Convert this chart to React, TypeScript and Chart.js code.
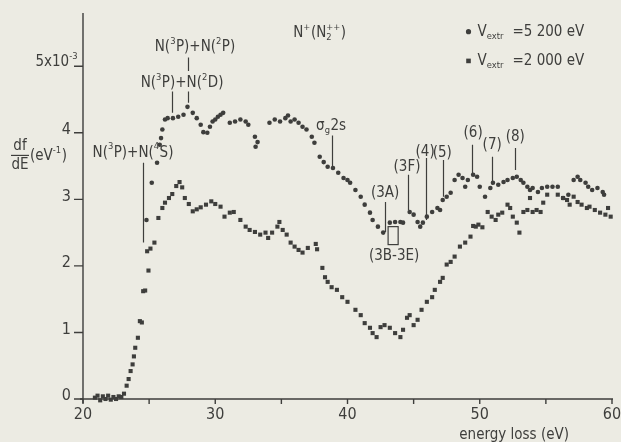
import React, { useEffect, useRef } from "react";
import { Chart, registerables } from "chart.js";

Chart.register(...registerables);

// ---- data: V_extr = 5200 eV (circles) ----
const highE = [24.8, 25.2, 25.6, 25.8, 25.9, 26.0, 26.2, 26.4, 26.8, 27.2, 27.6, 27.9, 28.3, 28.6, 28.9, 29.1, 29.4, 29.6, 29.8, 30.0, 30.2, 30.4, 30.6, 31.1, 31.5, 31.9, 32.3, 32.5, 33.0, 33.2, 33.05, 34.1, 34.5, 34.9, 35.3, 35.5, 35.7, 36.0, 36.3, 36.6, 36.9, 37.3, 37.5, 37.9, 38.2, 38.5, 38.9, 39.3, 39.7, 40.0, 40.2, 40.6, 41.0, 41.3, 41.7, 41.9, 42.3, 42.7, 43.2, 43.6, 44.0, 44.2, 44.7, 45.0, 45.3, 45.5, 45.7, 46.0, 46.4, 46.8, 47.0, 47.2, 47.5, 47.8, 48.1, 48.4, 48.7, 48.9, 49.1, 49.5, 49.8, 50.0, 50.4, 50.8, 51.0, 51.4, 51.8, 52.1, 52.5, 52.8, 53.1, 53.3, 53.6, 53.8, 54.0, 54.4, 54.7, 55.1, 55.5, 55.9, 56.3, 56.7, 57.1, 57.4, 57.6, 58.0, 58.2, 58.5, 58.9, 59.3, 59.4];
const highDf = [2.69, 3.25, 3.55, 3.82, 3.92, 4.05, 4.20, 4.22, 4.22, 4.24, 4.27, 4.39, 4.30, 4.22, 4.12, 4.01, 4.00, 4.09, 4.17, 4.20, 4.24, 4.27, 4.30, 4.15, 4.17, 4.20, 4.17, 4.12, 3.94, 3.86, 3.79, 4.15, 4.20, 4.17, 4.22, 4.26, 4.17, 4.20, 4.15, 4.09, 4.05, 3.94, 3.85, 3.64, 3.56, 3.49, 3.47, 3.40, 3.32, 3.29, 3.25, 3.14, 3.04, 2.92, 2.80, 2.69, 2.59, 2.50, 2.65, 2.66, 2.66, 2.65, 2.81, 2.77, 2.66, 2.59, 2.65, 2.74, 2.81, 2.87, 2.84, 2.99, 3.04, 3.10, 3.29, 3.37, 3.32, 3.19, 3.29, 3.37, 3.34, 3.19, 3.04, 3.17, 3.25, 3.22, 3.26, 3.29, 3.32, 3.34, 3.29, 3.25, 3.19, 3.14, 3.17, 3.11, 3.17, 3.19, 3.19, 3.19, 3.02, 3.07, 3.29, 3.34, 3.29, 3.25, 3.19, 3.14, 3.17, 3.11, 3.07];

// ---- data: V_extr = 2000 eV (squares) ----
const lowE = [20.9, 21.1, 21.3, 21.5, 21.7, 21.9, 22.1, 22.3, 22.5, 22.7, 22.9, 23.1, 23.3, 23.45, 23.6, 23.75, 23.85, 23.95, 24.15, 24.3, 24.45, 24.55, 24.7, 24.85, 24.95, 25.1, 25.4, 25.7, 26.0, 26.2, 26.5, 26.75, 27.05, 27.3, 27.5, 27.7, 28.0, 28.3, 28.6, 28.9, 29.3, 29.7, 30.0, 30.4, 30.7, 31.1, 31.4, 31.9, 32.3, 32.6, 33.0, 33.4, 33.8, 34.0, 34.3, 34.7, 34.85, 35.1, 35.4, 35.7, 36.0, 36.3, 36.6, 37.0, 37.6, 37.7, 38.1, 38.3, 38.5, 38.8, 39.2, 39.6, 40.0, 40.6, 41.0, 41.3, 41.7, 41.9, 42.2, 42.5, 42.8, 43.2, 43.6, 44.0, 44.2, 44.5, 44.7, 45.0, 45.3, 45.6, 46.0, 46.4, 46.6, 47.0, 47.2, 47.5, 47.8, 48.1, 48.5, 48.9, 49.3, 49.5, 49.7, 49.9, 50.2, 50.6, 50.9, 51.2, 51.4, 51.7, 52.1, 52.3, 52.5, 52.8, 53.0, 53.3, 53.6, 53.8, 54.0, 54.3, 54.6, 54.8, 55.1, 55.9, 56.3, 56.6, 56.8, 57.1, 57.4, 57.7, 58.1, 58.3, 58.7, 59.1, 59.5, 59.7, 59.9];
const lowDf = [0.02, 0.05, -0.02, 0.04, 0.00, 0.05, -0.01, 0.03, 0.00, 0.04, 0.03, 0.08, 0.20, 0.30, 0.42, 0.52, 0.64, 0.77, 0.92, 1.17, 1.15, 1.62, 1.63, 2.22, 1.93, 2.26, 2.35, 2.72, 2.87, 2.95, 3.02, 3.08, 3.20, 3.26, 3.18, 3.02, 2.93, 2.82, 2.85, 2.88, 2.92, 2.97, 2.93, 2.89, 2.74, 2.80, 2.81, 2.69, 2.59, 2.54, 2.51, 2.47, 2.50, 2.42, 2.50, 2.59, 2.66, 2.54, 2.47, 2.35, 2.29, 2.24, 2.20, 2.27, 2.33, 2.25, 1.97, 1.83, 1.76, 1.68, 1.64, 1.53, 1.46, 1.34, 1.26, 1.14, 1.07, 0.99, 0.93, 1.08, 1.11, 1.07, 0.99, 0.93, 1.04, 1.22, 1.26, 1.11, 1.19, 1.34, 1.46, 1.53, 1.64, 1.76, 1.82, 2.02, 2.06, 2.14, 2.29, 2.35, 2.44, 2.60, 2.59, 2.62, 2.58, 2.81, 2.74, 2.69, 2.77, 2.80, 2.92, 2.87, 2.74, 2.65, 2.50, 2.81, 2.84, 3.02, 2.81, 2.84, 2.81, 2.95, 3.07, 3.07, 3.02, 2.99, 2.92, 3.04, 2.96, 2.92, 2.87, 2.89, 2.84, 2.80, 2.77, 2.87, 2.74];

// ---- axes ----
const xMajorTicks = [20, 30, 40, 50, 60];
const xMinorTicks = [25, 35, 45, 55];
const yTicks = [0, 1, 2, 3, 4, 5];
const yTickLabels = ["0", "1", "2", "3", "4", "5x10"];
const xTitle = "energy loss (eV)";
const seriesNames = ["5 200 eV", "2 000 eV"];

const X_MIN = 20, X_MAX = 60, Y_MIN = 0, Y_MAX = 5.8;

const BG = "#ecebe3";
const INK = "#3e3e3c";
const FONT = "'DejaVu Sans Condensed', 'Liberation Sans Narrow', 'DejaVu Sans', sans-serif";

type Seg = { t: string; s?: "sup" | "sub"; sub?: string };

function segFont(size: number) {
  return `${size}px ${FONT}`;
}

function richWidth(ctx: CanvasRenderingContext2D, segs: Seg[], size: number) {
  let w = 0;
  for (const g of segs) {
    if (g.s || g.sub) {
      ctx.font = segFont(size * 0.62);
      const a = ctx.measureText(g.t).width;
      const b = g.sub ? ctx.measureText(g.sub).width : 0;
      w += Math.max(a, b) + 0.5;
    } else {
      ctx.font = segFont(size);
      w += ctx.measureText(g.t).width;
    }
  }
  return w;
}

function drawRich(ctx: CanvasRenderingContext2D, segs: Seg[], x: number, y: number, size: number, align: "left" | "center" | "right") {
  const w = richWidth(ctx, segs, size);
  let cx = align === "left" ? x : align === "center" ? x - w / 2 : x - w;
  ctx.textAlign = "left";
  ctx.textBaseline = "middle";
  for (const g of segs) {
    if (g.s || g.sub) {
      ctx.font = segFont(size * 0.62);
      let a = 0, b = 0;
      if (g.t) {
        const dy = g.s === "sub" ? size * 0.3 : -size * 0.38;
        ctx.fillText(g.t, cx, y + dy);
        a = ctx.measureText(g.t).width;
      }
      if (g.sub) {
        ctx.fillText(g.sub, cx, y + size * 0.3);
        b = ctx.measureText(g.sub).width;
      }
      cx += Math.max(a, b) + 0.5;
    } else {
      ctx.font = segFont(size);
      ctx.fillText(g.t, cx, y);
      cx += ctx.measureText(g.t).width;
    }
  }
}

// annotation marks in data coordinates
const markLines = [
  { x: 24.5, y1: 3.55, y2: 2.35 },
  { x: 26.7, y1: 4.62, y2: 4.3 },
  { x: 27.95, y1: 5.13, y2: 4.93 },
  { x: 27.95, y1: 4.62, y2: 4.45 },
  { x: 38.8, y1: 3.96, y2: 3.48 },
  { x: 42.8, y1: 2.96, y2: 2.51 },
  { x: 44.6, y1: 3.37, y2: 2.84 },
  { x: 45.9, y1: 3.62, y2: 2.69 },
  { x: 47.2, y1: 3.59, y2: 3.04 },
  { x: 49.4, y1: 3.82, y2: 3.37 },
  { x: 50.9, y1: 3.64, y2: 3.22 },
  { x: 52.7, y1: 3.77, y2: 3.44 },
];

const markLabels: { x: number; y: number; segs: Seg[] }[] = [
  { x: 23.78, y: 3.7, segs: [{ t: "N(" }, { t: "3", s: "sup" }, { t: "P)+N(" }, { t: "4", s: "sup" }, { t: "S)" }] },
  { x: 27.49, y: 4.75, segs: [{ t: "N(" }, { t: "3", s: "sup" }, { t: "P)+N(" }, { t: "2", s: "sup" }, { t: "D)" }] },
  { x: 28.47, y: 5.28, segs: [{ t: "N(" }, { t: "3", s: "sup" }, { t: "P)+N(" }, { t: "2", s: "sup" }, { t: "P)" }] },
  { x: 38.76, y: 4.1, segs: [{ t: "σ" }, { t: "g", s: "sub" }, { t: "2s" }] },
  { x: 42.84, y: 3.1, segs: [{ t: "(3A)" }] },
  { x: 44.5, y: 3.49, segs: [{ t: "(3F)" }] },
  { x: 45.87, y: 3.71, segs: [{ t: "(4)" }] },
  { x: 47.16, y: 3.7, segs: [{ t: "(5)" }] },
  { x: 49.5, y: 4.0, segs: [{ t: "(6)" }] },
  { x: 50.94, y: 3.82, segs: [{ t: "(7)" }] },
  { x: 52.68, y: 3.94, segs: [{ t: "(8)" }] },
  { x: 43.53, y: 2.14, segs: [{ t: "(3B-3E)" }] },
];

const paperPlugin = {
  id: "paper",
  beforeDraw(chart: any) {
    const { ctx, width, height } = chart;
    ctx.save();
    ctx.fillStyle = BG;
    ctx.fillRect(0, 0, width, height);
    ctx.restore();
  },
  beforeDatasetsDraw(chart: any) {
    const { ctx } = chart;
    const xs = chart.scales.x;
    const ys = chart.scales.y;
    const x0 = xs.getPixelForValue(X_MIN);
    const x1 = xs.getPixelForValue(X_MAX);
    const y0 = ys.getPixelForValue(0);
    const yTop = ys.getPixelForValue(Y_MAX);
    ctx.save();
    ctx.strokeStyle = INK;
    ctx.fillStyle = INK;
    ctx.lineWidth = 1.4;
    // axes
    ctx.beginPath();
    ctx.moveTo(x0, yTop);
    ctx.lineTo(x0, y0 + 4);
    ctx.moveTo(x0 - 3, y0);
    ctx.lineTo(x1 + 1, y0);
    ctx.stroke();
    // x ticks
    ctx.beginPath();
    for (const v of [...xMajorTicks, ...xMinorTicks]) {
      const px = xs.getPixelForValue(v);
      ctx.moveTo(px, y0);
      ctx.lineTo(px, y0 + 5);
    }
    // y ticks
    for (const v of yTicks) {
      const py = ys.getPixelForValue(v);
      ctx.moveTo(x0 - 9, py);
      ctx.lineTo(x0, py);
    }
    ctx.stroke();
    // x tick labels
    for (const v of xMajorTicks) {
      drawRich(ctx, [{ t: String(v) }], xs.getPixelForValue(v), y0 + 16, 16, "center");
    }
    // y tick labels
    yTicks.forEach((v, i) => {
      const py = ys.getPixelForValue(v) - 3;
      if (i === yTicks.length - 1) {
        drawRich(ctx, [{ t: yTickLabels[i] }, { t: "-3", s: "sup" }], x0 - 5, py - 1, 15, "right");
      } else {
        drawRich(ctx, [{ t: yTickLabels[i] }], x0 - 12, py, 16, "right");
      }
    });
    // x title
    drawRich(ctx, [{ t: xTitle }], xs.getPixelForValue(52.6), y0 + 36, 15, "center");
    // y title: df/dE (eV^-1)
    const ly = ys.getPixelForValue(3.66);
    drawRich(ctx, [{ t: "df" }], 20, ly - 9, 15, "center");
    ctx.beginPath();
    ctx.lineWidth = 1.2;
    ctx.moveTo(11, ly);
    ctx.lineTo(29, ly);
    ctx.stroke();
    drawRich(ctx, [{ t: "dE" }], 20, ly + 10, 15, "center");
    drawRich(ctx, [{ t: "(eV" }, { t: "-1", s: "sup" }, { t: ")" }], 30, ly + 1, 15, "left");
    ctx.restore();
  },
  afterDatasetsDraw(chart: any) {
    const { ctx } = chart;
    const xs = chart.scales.x;
    const ys = chart.scales.y;
    ctx.save();
    ctx.strokeStyle = INK;
    ctx.fillStyle = INK;
    ctx.lineWidth = 1.2;
    ctx.beginPath();
    for (const m of markLines) {
      const px = Math.round(xs.getPixelForValue(m.x)) + 0.5;
      ctx.moveTo(px, ys.getPixelForValue(m.y1));
      ctx.lineTo(px, ys.getPixelForValue(m.y2));
    }
    ctx.stroke();
    // (3B-3E) box
    const bx0 = xs.getPixelForValue(43.07), bx1 = xs.getPixelForValue(43.83);
    const by0 = ys.getPixelForValue(2.59), by1 = ys.getPixelForValue(2.32);
    ctx.strokeRect(bx0, by0, bx1 - bx0, by1 - by0);
    for (const l of markLabels) {
      drawRich(ctx, l.segs, xs.getPixelForValue(l.x), ys.getPixelForValue(l.y), 15, "center");
    }
    // molecule label
    drawRich(
      ctx,
      [{ t: "N" }, { t: "+", s: "sup" }, { t: "(N" }, { t: "++", sub: "2" }, { t: ")" }],
      xs.getPixelForValue(35.9),
      ys.getPixelForValue(5.5),
      15,
      "left"
    );
    // legend
    const lx = xs.getPixelForValue(49.15);
    const r1 = ys.getPixelForValue(5.52);
    const r2 = ys.getPixelForValue(5.08);
    ctx.beginPath();
    ctx.arc(lx, r1, 2.6, 0, Math.PI * 2);
    ctx.fill();
    ctx.fillRect(lx - 2.3, r2 - 2.3, 4.6, 4.6);
    drawRich(ctx, [{ t: "V" }, { t: "extr", s: "sub" }, { t: "  =" + seriesNames[0] }], lx + 9, r1, 15, "left");
    drawRich(ctx, [{ t: "V" }, { t: "extr", s: "sub" }, { t: "  =" + seriesNames[1] }], lx + 9, r2, 15, "left");
    ctx.restore();
  },
};

export default function App() {
  const ref = useRef<HTMLCanvasElement | null>(null);
  useEffect(() => {
    if (!ref.current) return;
    const chart = new Chart(ref.current, {
      type: "scatter",
      data: {
        datasets: [
          {
            label: "V_extr = " + seriesNames[0],
            data: highE.map((x, i) => ({ x, y: highDf[i] })),
            pointStyle: "circle",
            pointRadius: 2.3,
            backgroundColor: INK,
            borderColor: INK,
            borderWidth: 0,
            showLine: false,
            clip: false as any,
          },
          {
            label: "V_extr = " + seriesNames[1],
            data: lowE.map((x, i) => ({ x, y: lowDf[i] })),
            pointStyle: "rect",
            pointRadius: 2.9,
            backgroundColor: INK,
            borderColor: INK,
            borderWidth: 0,
            showLine: false,
            clip: false as any,
          },
        ],
      },
      options: {
        animation: false,
        responsive: false,
        layout: { padding: { left: 83, right: 9, top: 13, bottom: 43 } },
        plugins: { legend: { display: false }, tooltip: { enabled: false }, title: { display: false } },
        scales: {
          x: { type: "linear", min: X_MIN, max: X_MAX, display: false },
          y: { type: "linear", min: Y_MIN, max: Y_MAX, display: false },
        },
        events: [],
      },
      plugins: [paperPlugin],
    });
    return () => chart.destroy();
  }, []);
  return (
    <div style={{ position: "fixed", left: 0, top: 0, width: 621, height: 442, background: BG }}>
      <canvas ref={ref} width={621} height={442} style={{ display: "block" }} />
    </div>
  );
}
